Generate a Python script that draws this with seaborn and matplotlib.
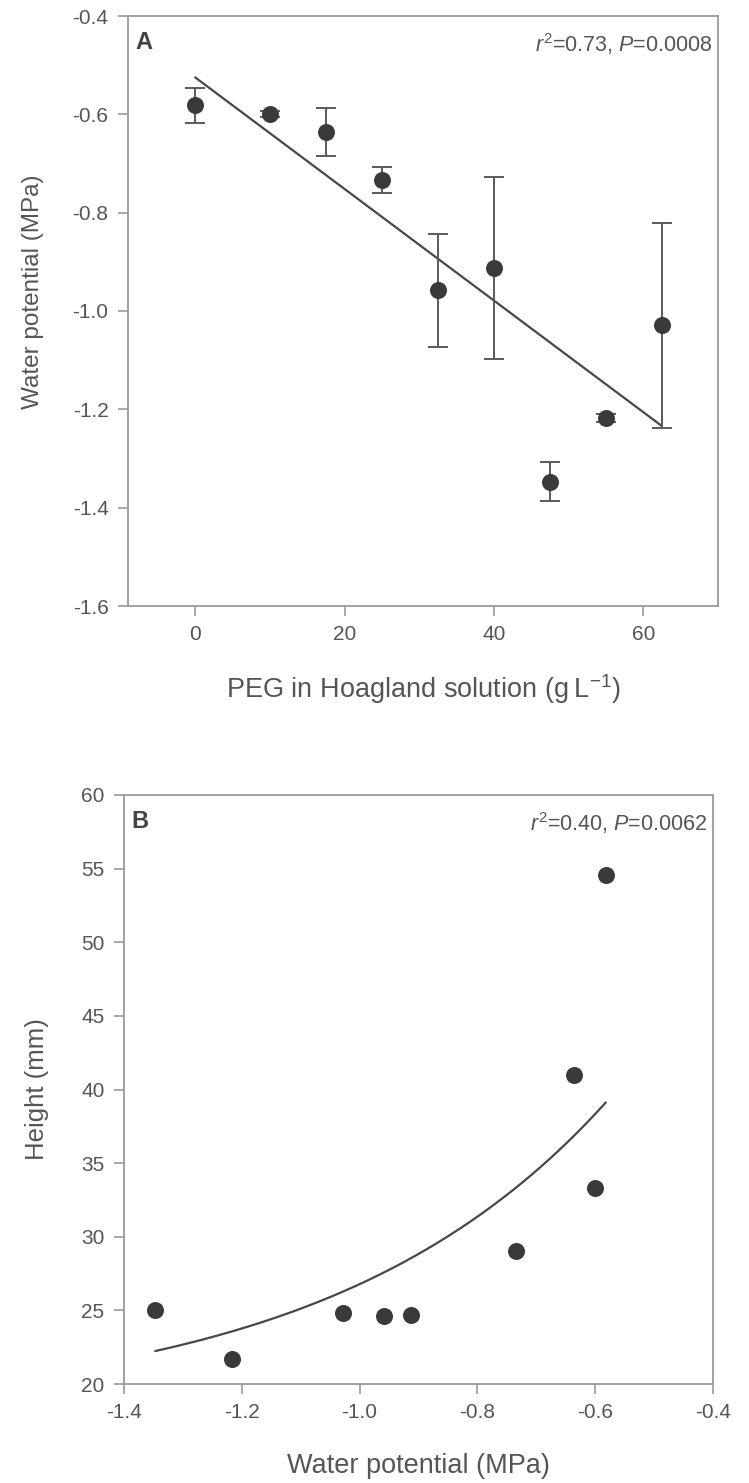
import matplotlib
matplotlib.use('Agg')
import matplotlib.pyplot as plt
import numpy as np
import pandas as pd
import seaborn as sns

sns.set_theme(style='white')
plt.rcParams['font.family'] = ['Liberation Sans', 'DejaVu Sans']
plt.rcParams['mathtext.fontset'] = 'custom'
plt.rcParams['mathtext.rm'] = 'Liberation Sans'
plt.rcParams['mathtext.it'] = 'Liberation Sans:italic'

# panel A: PEG in solution vs water potential (mean +/- error)
peg = [0, 10, 17.5, 25, 32.5, 40, 47.5, 55, 62.5]
psi = [-0.582, -0.600, -0.636, -0.734, -0.958, -0.912, -1.347, -1.217, -1.029]
psi_err = [0.035, 0.006, 0.048, 0.027, 0.115, 0.185, 0.040, 0.008, 0.208]
# panel B: plant height for each water potential
height = [54.6, 33.3, 41.0, 29.0, 24.6, 24.7, 25.0, 21.7, 24.8]
# exponential fit:  y = c + a*exp(b*x)
fit_c, fit_a, fit_b = 18.0, 71.7, 2.1

df = pd.DataFrame({'peg': peg, 'psi': psi, 'err': psi_err, 'height': height})
xs = np.linspace(min(psi), max(psi), 200)
fit = pd.DataFrame({'psi': xs, 'height': fit_c + fit_a * np.exp(fit_b * xs)})

dot_c = '#3a3a3a'
line_c = '#474747'
spine_c = '#9a9a9a'
text_c = '#555555'

fig = plt.figure(figsize=(7.49, 14.83), dpi=100)
W, H = 749, 1483


def box(l, r, t, b):
    return [l / W, 1 - b / H, (r - l) / W, (b - t) / H]


ax1 = fig.add_axes(box(128, 718, 16, 606))
ax2 = fig.add_axes(box(124, 713, 795, 1384))

# ---- A
sns.regplot(data=df, x='peg', y='psi', scatter=False, ci=None, ax=ax1,
            line_kws=dict(color=line_c, lw=1.6))
ax1.errorbar(df['peg'], df['psi'], yerr=df['err'], fmt='none', ecolor='#5a5a5a',
             elinewidth=1.4, capsize=7, capthick=1.4, zorder=2)
sns.scatterplot(data=df, x='peg', y='psi', ax=ax1, s=150, color=dot_c,
                linewidth=0, zorder=3)
ax1.set_xlim(-9, 70)
ax1.set_ylim(-1.6, -0.4)
ax1.set_xticks([0, 20, 40, 60])
ax1.set_yticks(np.arange(-1.6, -0.39, 0.2))
ax1.set_yticklabels(['-1.6', '-1.4', '-1.2', '-1.0', '-0.8', '-0.6', '-0.4'])
ax1.set_xlabel('PEG in Hoagland solution (g\u2009L$^{-1}$)', fontsize=19.5, color=text_c)
ax1.set_ylabel('Water potential (MPa)', fontsize=17.5, color=text_c)
ax1.text(0.012, 0.975, 'A', transform=ax1.transAxes, ha='left', va='top',
         fontsize=17, fontweight='bold', color='#444444')
ax1.text(0.99, 0.975, r'$\mathit{r}^2$=0.73, $\mathit{P}$=0.0008', transform=ax1.transAxes,
         ha='right', va='top', fontsize=15.5, color=text_c)

# ---- B
sns.lineplot(data=fit, x='psi', y='height', ax=ax2, color=line_c, lw=1.6)
sns.scatterplot(data=df, x='psi', y='height', ax=ax2, s=150, color=dot_c,
                linewidth=0, zorder=3)
ax2.set_xlim(-1.4, -0.4)
ax2.set_ylim(20, 60)
ax2.set_xticks(np.arange(-1.4, -0.39, 0.2))
ax2.set_xticklabels(['-1.4', '-1.2', '-1.0', '-0.8', '-0.6', '-0.4'])
ax2.set_yticks(range(20, 61, 5))
ax2.set_xlabel('Water potential (MPa)', fontsize=19.5, color=text_c)
ax2.set_ylabel('Height (mm)', fontsize=18.5, color=text_c)
ax2.text(0.012, 0.975, 'B', transform=ax2.transAxes, ha='left', va='top',
         fontsize=17, fontweight='bold', color='#444444')
ax2.text(0.99, 0.975, r'$\mathit{r}^2$=0.40, $\mathit{P}$=0.0062', transform=ax2.transAxes,
         ha='right', va='top', fontsize=15.5, color=text_c)

for ax in (ax1, ax2):
    for sp in ax.spines.values():
        sp.set_color(spine_c)
        sp.set_linewidth(1.3)
    ax.tick_params(direction='out', length=7, width=1.2, color=spine_c,
                   labelcolor=text_c, labelsize=15, pad=7,
                   bottom=True, left=True, top=False, right=False)

ax1.xaxis.set_label_coords(0.5, -0.112)
ax2.xaxis.set_label_coords(0.5, -0.117)
ax1.yaxis.set_label_coords(-0.142, 0.532)
ax2.yaxis.set_label_coords(-0.128, 0.5)

fig.savefig('out.png', dpi=100, facecolor='white')
